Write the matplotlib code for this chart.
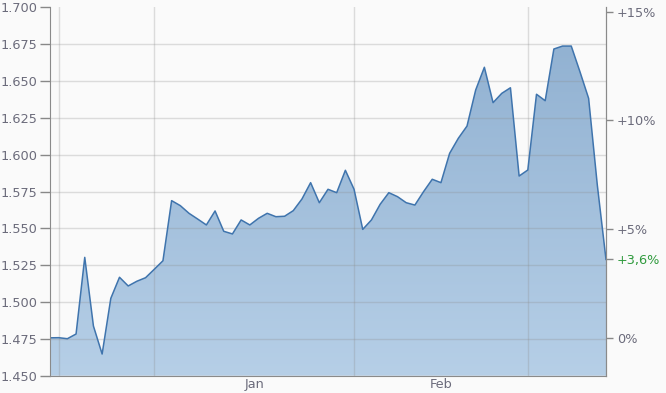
import numpy as np
import matplotlib
matplotlib.use('Agg')
import matplotlib.pyplot as plt
from matplotlib.colors import LinearSegmentedColormap

# closing prices, one per trading day
prices = [1.4757, 1.4758, 1.4751, 1.4783, 1.5303, 1.4837, 1.4647, 1.5025, 1.5168, 1.5109,
          1.5141, 1.5165, 1.5222, 1.5280, 1.5688, 1.5654, 1.5602, 1.5563, 1.5523, 1.5618,
          1.5480, 1.5462, 1.5557, 1.5523, 1.5568, 1.5602, 1.5579, 1.5582, 1.5620, 1.5699,
          1.5810, 1.5674, 1.5765, 1.5742, 1.5894, 1.5765, 1.5493, 1.5557, 1.5663, 1.5742,
          1.5715, 1.5674, 1.5658, 1.5749, 1.5833, 1.5810, 1.6009, 1.6111, 1.6194, 1.6439,
          1.6593, 1.6353, 1.6416, 1.6454, 1.5855, 1.5896, 1.6410, 1.6366, 1.6717, 1.6737,
          1.6737, 1.6563, 1.6382, 1.5794, 1.5289]
month_starts = [1, 12, 35, 55]      # day index of vertical grid lines
month_labels = ['Jan', 'Feb']
pct_ticks = [0, 5, 10, 15]

x = np.arange(len(prices))
y = np.array(prices)
base = y[0]
ymin, ymax = 1.45, 1.70

txt = '#6b6b7b'
fs = 9.3
fig = plt.figure(figsize=(6.66, 3.93), dpi=100)
fig.patch.set_facecolor('#fafafa')
ax = fig.add_axes([50/666, 17.3/393, 556/666, 368.4/393])
ax.set_facecolor('#fafafa')

# gradient fill under the line
poly = ax.fill_between(x, y, ymin, color='none', lw=0)
cmap = LinearSegmentedColormap.from_list('f', ['#b6cfe7', '#92b2d2'])
grad = np.linspace(0, 1, 256).reshape(-1, 1)
img = ax.imshow(grad, cmap=cmap, aspect='auto', origin='lower',
                extent=[x[0], x[-1], ymin, y.max()], zorder=1)
img.set_clip_path(poly.get_paths()[0], transform=ax.transData)
ax.plot(x, y, color='#3f74ad', lw=1.1, zorder=3)

ax.set_xlim(x[0], x[-1])
ax.set_ylim(ymin, ymax)
ax.set_yticks(np.arange(1.45, 1.7001, 0.025))
ax.set_yticklabels([f'{v:.3f}' for v in np.arange(1.45, 1.7001, 0.025)])
ax.set_xticks(month_starts, minor=True)
ax.set_xticks([(month_starts[1] + month_starts[2]) / 2, (month_starts[2] + month_starts[3]) / 2])
ax.set_xticklabels(month_labels)
ax.grid(True, which='minor', axis='x', color='#8c8c8c', alpha=0.28, lw=1, zorder=2)
ax.grid(True, which='major', axis='y', color='#8c8c8c', alpha=0.28, lw=1, zorder=2)
ax.set_axisbelow(False)
ax.yaxis.get_gridlines()[-1].set_visible(False)
ax.tick_params(axis='x', which='both', length=0, labelsize=fs, colors=txt, pad=2)
ax.tick_params(axis='y', length=7, width=1, color='#888888', labelsize=fs, labelcolor=txt, pad=2)

for s in ['top']:
    ax.spines[s].set_visible(False)
for s in ['left', 'bottom', 'right']:
    ax.spines[s].set_color('#8a8a8a')
    ax.spines[s].set_zorder(4)

# percent axis on the right
ax2 = ax.twinx()
ax2.set_ylim((ymin / base - 1) * 100, (ymax / base - 1) * 100)
last_pct = (y[-1] / base - 1) * 100
ticks = pct_ticks + [last_pct]
ax2.set_yticks(ticks)
labels = [('+' if t > 0 else '') + f'{t:g}%' for t in pct_ticks]
labels.append(f'{last_pct:+.1f}%'.replace('.', ','))
ax2.set_yticklabels(labels)
ax2.tick_params(axis='y', length=5, width=1, color='#888888', labelsize=fs, labelcolor=txt, pad=3)
ax2.get_yticklabels()[-1].set_color('#2e9a3c')
for s in ['top', 'left', 'bottom']:
    ax2.spines[s].set_visible(False)
ax2.spines['right'].set_color('#8a8a8a')

fig.savefig('out.png', dpi=100, facecolor=fig.get_facecolor())
